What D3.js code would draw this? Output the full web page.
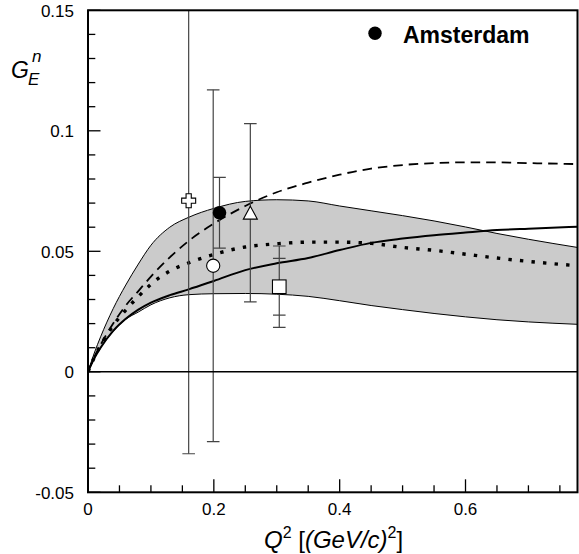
<!DOCTYPE html>
<html><head><meta charset="utf-8">
<script src="https://cdn.jsdelivr.net/npm/d3@7"></script>
<style>body{margin:0;background:#fff}svg{display:block}text{font-family:"Liberation Sans",Arial,sans-serif}</style>
</head><body>
<svg id="c" width="579" height="554"></svg>
<script>
// ---- data ----
const qGrid       = [0, 0.01, 0.02, 0.04, 0.06, 0.08, 0.10, 0.13, 0.16, 0.20, 0.25, 0.30, 0.35, 0.40, 0.45, 0.50, 0.55, 0.60, 0.65, 0.70, 0.778];
const bandUpper   = [0, 0.0078, 0.0145, 0.0262, 0.0360, 0.0447, 0.0525, 0.0600, 0.0641, 0.0678, 0.0707, 0.0714, 0.0709, 0.0688, 0.0668, 0.0648, 0.0626, 0.0601, 0.0574, 0.0550, 0.0516];
const bandLower   = [0, 0.0056, 0.0100, 0.0168, 0.0218, 0.0248, 0.0278, 0.0307, 0.0320, 0.0324, 0.0325, 0.0322, 0.0313, 0.0295, 0.0275, 0.0258, 0.0242, 0.0228, 0.0216, 0.0207, 0.0197];
const solidCurve  = [0, 0.0056, 0.0100, 0.0170, 0.0220, 0.0258, 0.0287, 0.0318, 0.0342, 0.0377, 0.0422, 0.0450, 0.0472, 0.0505, 0.0535, 0.0553, 0.0567, 0.0578, 0.0588, 0.0594, 0.0602];
const dashedCurve = [0, 0.0062, 0.0112, 0.0200, 0.0275, 0.0335, 0.0395, 0.0475, 0.0543, 0.0615, 0.0688, 0.0745, 0.0785, 0.0818, 0.0843, 0.0858, 0.0866, 0.0869, 0.0869, 0.0866, 0.0862];
const dottedCurve = [0, 0.0060, 0.0110, 0.0192, 0.0256, 0.0312, 0.0363, 0.0418, 0.0452, 0.0487, 0.0518, 0.0531, 0.0538, 0.0538, 0.0533, 0.0516, 0.0504, 0.0488, 0.0472, 0.0458, 0.0440];

const pointNames = ["cross", "openCircle", "Amsterdam", "triangle", "square"];
const pointQ2    = [0.160, 0.199, 0.209, 0.258, 0.304];
const pointGEn   = [0.071, 0.044, 0.066, 0.066, 0.0353];
const pointErr   = [0.105, 0.073, 0.0147, 0.037, 0.0169];
const pointErrIn = [null, null, null, null, 0.0118];

const xMajorTicks = [0, 0.2, 0.4, 0.6];
const xTickLabels = ["0", "0.2", "0.4", "0.6"];
const yMajorTicks = [-0.05, 0, 0.05, 0.1, 0.15];
const yTickLabels = ["-0.05", "0", "0.05", "0.1", "0.15"];
const legendLabel = "Amsterdam";

// ---- layout ----
const svg = d3.select("#c");
const L = 88, R = 577.5, T = 10.3, B = 492.3;
const x = d3.scaleLinear().domain([0, 0.778]).range([L, R]);
const y = d3.scaleLinear().domain([-0.05, 0.15]).range([B, T]);

svg.append("defs").append("clipPath").attr("id", "clip")
  .append("rect").attr("x", L).attr("y", T).attr("width", R - L).attr("height", B - T);
const plot = svg.append("g").attr("clip-path", "url(#clip)");

const curve = d3.curveMonotoneX;
const bandData = qGrid.map((q, i) => ({q, lo: bandLower[i], hi: bandUpper[i]}));
plot.append("path").datum(bandData)
  .attr("d", d3.area().x(d => x(d.q)).y0(d => y(d.lo)).y1(d => y(d.hi)).curve(curve))
  .attr("fill", "#cbcbcb");
const lineOf = arr => d3.line().x((d, i) => x(qGrid[i])).y(d => y(d)).curve(curve)(arr);
plot.append("path").attr("d", lineOf(bandUpper)).attr("fill", "none").attr("stroke", "#000").attr("stroke-width", 1);
plot.append("path").attr("d", lineOf(bandLower)).attr("fill", "none").attr("stroke", "#000").attr("stroke-width", 1);
plot.append("path").attr("d", lineOf(solidCurve)).attr("fill", "none").attr("stroke", "#000").attr("stroke-width", 2);
plot.append("path").attr("d", lineOf(dashedCurve)).attr("fill", "none").attr("stroke", "#000").attr("stroke-width", 1.8).attr("stroke-dasharray", "9.5 6");
plot.append("path").attr("d", lineOf(dottedCurve)).attr("fill", "none").attr("stroke", "#000").attr("stroke-width", 3.4).attr("stroke-dasharray", "3.4 8.2");

// zero line
svg.append("line").attr("x1", L).attr("x2", R).attr("y1", y(0)).attr("y2", y(0)).attr("stroke", "#000").attr("stroke-width", 1.5);

// error bars
const eb = plot.append("g").attr("stroke", "#444").attr("stroke-width", 1.2);
const cap = 6.3;
pointNames.forEach((n, i) => {
  const cx = x(pointQ2[i]);
  const lo = y(pointGEn[i] - pointErr[i]), hi = y(pointGEn[i] + pointErr[i]);
  eb.append("line").attr("x1", cx).attr("x2", cx).attr("y1", lo).attr("y2", hi);
  eb.append("line").attr("x1", cx - cap).attr("x2", cx + cap).attr("y1", lo).attr("y2", lo);
  eb.append("line").attr("x1", cx - cap).attr("x2", cx + cap).attr("y1", hi).attr("y2", hi);
  if (pointErrIn[i] != null) {
    const lo2 = y(pointGEn[i] - pointErrIn[i]), hi2 = y(pointGEn[i] + pointErrIn[i]);
    eb.append("line").attr("x1", cx - cap).attr("x2", cx + cap).attr("y1", lo2).attr("y2", lo2);
    eb.append("line").attr("x1", cx - cap).attr("x2", cx + cap).attr("y1", hi2).attr("y2", hi2);
  }
});

// markers
function marker(g, name, cx, cy) {
  if (name === "cross") {
    const a = 7, w = 2.6;
    const pts = [[-w,-a],[w,-a],[w,-w],[a,-w],[a,w],[w,w],[w,a],[-w,a],[-w,w],[-a,w],[-a,-w],[-w,-w]];
    g.append("polygon").attr("points", pts.map(p => [cx + p[0], cy + p[1]].join(",")).join(" "))
      .attr("fill", "#fff").attr("stroke", "#000").attr("stroke-width", 1.1);
  } else if (name === "openCircle") {
    g.append("circle").attr("cx", cx).attr("cy", cy).attr("r", 6.6).attr("fill", "#fff").attr("stroke", "#000").attr("stroke-width", 1.1);
  } else if (name === "Amsterdam") {
    g.append("circle").attr("cx", cx).attr("cy", cy).attr("r", 6.8).attr("fill", "#000");
  } else if (name === "triangle") {
    g.append("polygon").attr("points", [[cx, cy - 6.6], [cx + 7, cy + 6.4], [cx - 7, cy + 6.4]].map(p => p.join(",")).join(" "))
      .attr("fill", "#fff").attr("stroke", "#000").attr("stroke-width", 1.1);
  } else if (name === "square") {
    g.append("rect").attr("x", cx - 6.8).attr("y", cy - 6.8).attr("width", 13.6).attr("height", 13.6)
      .attr("fill", "#fff").attr("stroke", "#000").attr("stroke-width", 1.1);
  }
}
const mk = svg.append("g");
pointNames.forEach((n, i) => marker(mk, n, x(pointQ2[i]), y(pointGEn[i])));

// frame
svg.append("rect").attr("x", L).attr("y", T).attr("width", R - L).attr("height", B - T)
  .attr("fill", "none").attr("stroke", "#000").attr("stroke-width", 2);

// ticks
const tk = svg.append("g").attr("stroke", "#000").attr("stroke-width", 1.3);
d3.range(0, 0.7761, 0.05).forEach(v => {
  const major = xMajorTicks.some(m => Math.abs(m - v) < 1e-6);
  tk.append("line").attr("x1", x(v)).attr("x2", x(v)).attr("y1", B).attr("y2", B - (major ? 13 : 7));
});
d3.range(-0.05, 0.1501, 0.01).forEach(v => {
  const major = yMajorTicks.some(m => Math.abs(m - v) < 1e-6);
  tk.append("line").attr("x1", L).attr("x2", L + (major ? 12.5 : 7.3)).attr("y1", y(v)).attr("y2", y(v));
});

// tick labels
xMajorTicks.forEach((v, i) => {
  svg.append("text").attr("x", x(v)).attr("y", 515).attr("text-anchor", "middle")
    .attr("font-size", 17).text(xTickLabels[i]);
});
yMajorTicks.forEach((v, i) => {
  svg.append("text").attr("x", 74).attr("y", y(v) + 6.2).attr("text-anchor", "end")
    .attr("font-size", 17).text(yTickLabels[i]);
});

// axis titles
const xt = svg.append("text").attr("x", 264).attr("y", 548).attr("font-size", 24);
xt.append("tspan").attr("font-style", "italic").text("Q");
xt.append("tspan").attr("font-size", 16).attr("dy", -10).text("2");
xt.append("tspan").attr("dy", 10).text(" [");
xt.append("tspan").attr("font-style", "italic").text("(GeV/c)");
xt.append("tspan").attr("font-size", 16).attr("dy", -10).text("2");
xt.append("tspan").attr("dy", 10).text("]");

svg.append("text").attr("x", 11).attr("y", 78).attr("font-size", 23).attr("font-style", "italic").text("G");
svg.append("text").attr("x", 32).attr("y", 62).attr("font-size", 17).attr("font-style", "italic").text("n");
svg.append("text").attr("x", 28).attr("y", 85).attr("font-size", 17).attr("font-style", "italic").text("E");

// legend
svg.append("circle").attr("cx", 375).attr("cy", 33.3).attr("r", 6.7).attr("fill", "#000");
svg.append("text").attr("x", 403).attr("y", 42.7).attr("font-size", 23).attr("font-weight", "bold").text(legendLabel);
</script>
</body></html>
